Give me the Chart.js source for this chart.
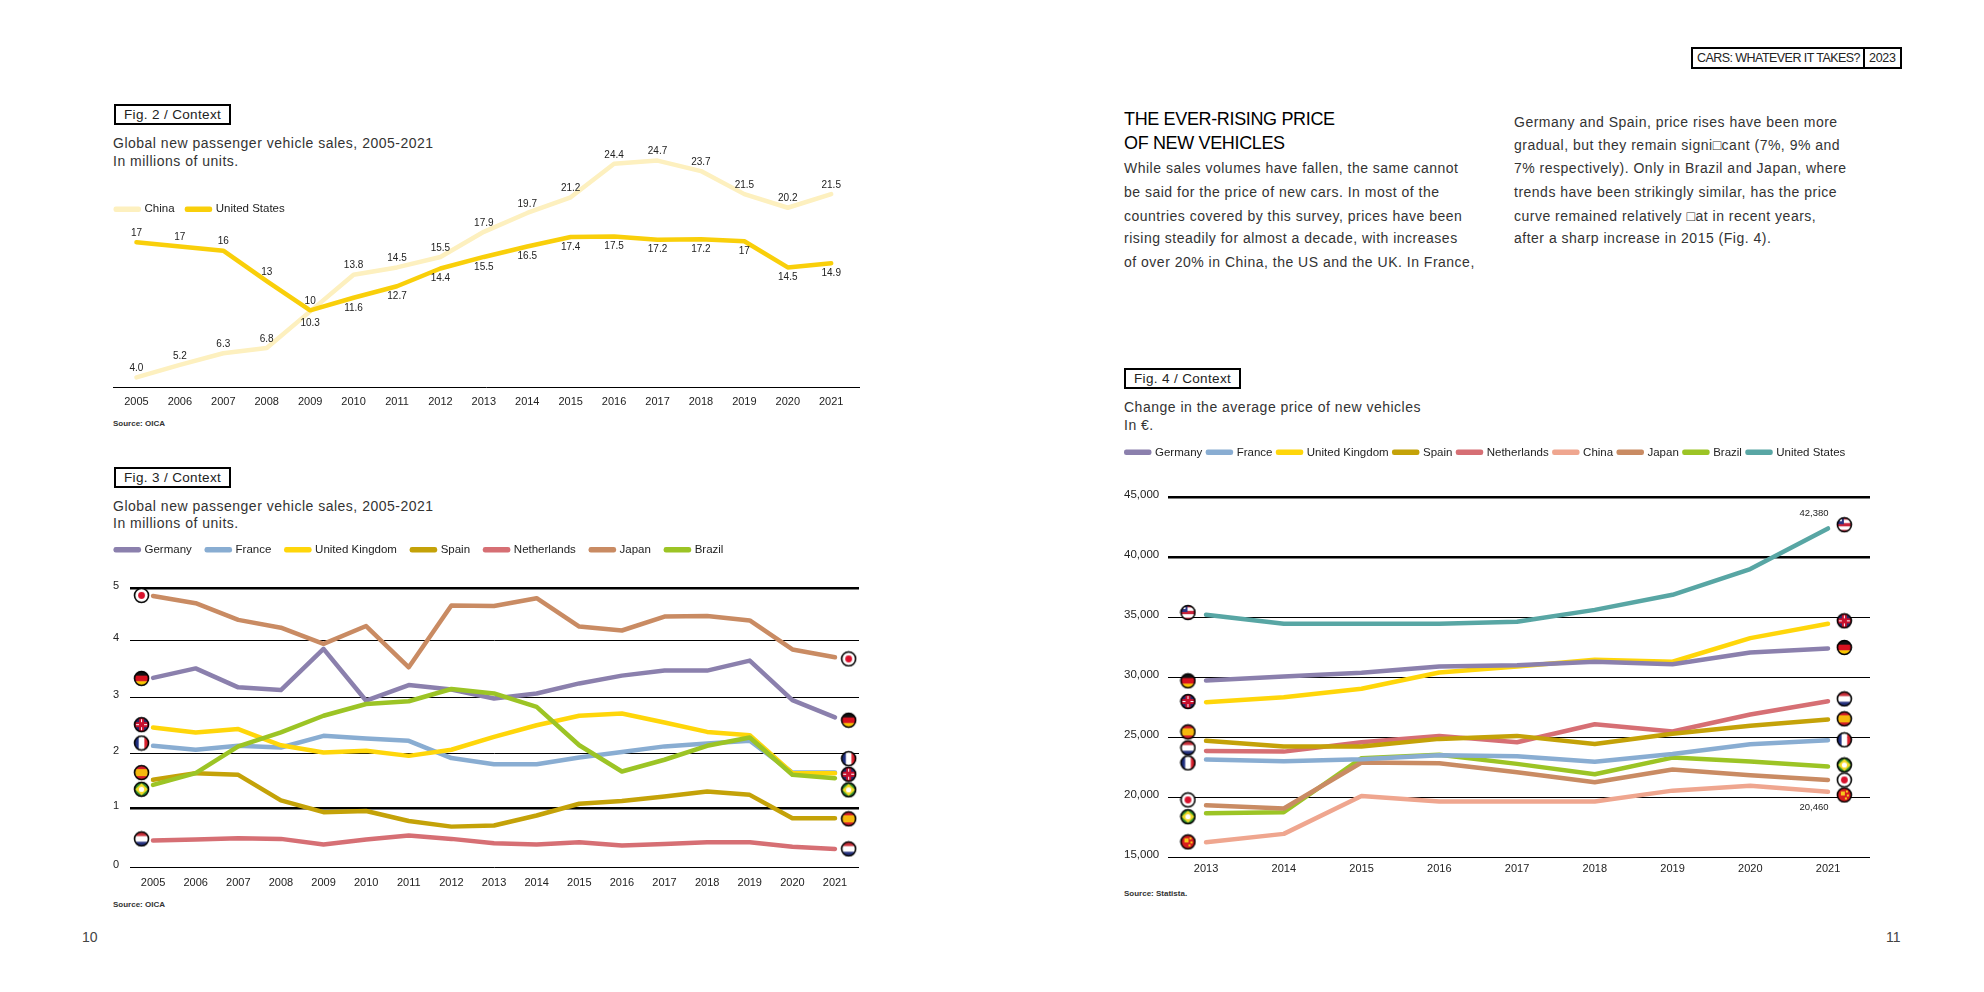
<!DOCTYPE html>
<html>
<head>
<meta charset="utf-8">
<title>Cars: whatever it takes?</title>
<script src="https://cdn.jsdelivr.net/npm/chart.js@4"></script>
<style>
    html, body { margin: 0; padding: 0; background: #fff; }
    body { position: relative; width: 1984px; height: 992px; overflow: hidden; font-family: "Liberation Sans", sans-serif; color: #222; }
    canvas { position: absolute; }
    .t { position: absolute; white-space: nowrap; line-height: 20px; }
    .figbox { position: absolute; box-sizing: border-box; border: 2px solid #000; height: 21px; width: 117px; font-size: 13.5px; line-height: 17px; padding-left: 8px; letter-spacing: 0.35px; white-space: nowrap; }
    .sub { font-size: 14px; letter-spacing: 0.5px; color: #333; }
    .src { font-size: 8px; font-weight: bold; color: #333; }
    .body { font-size: 14px; letter-spacing: 0.5px; color: #333; }
    .head { font-size: 18px; letter-spacing: -0.35px; color: #000; }
</style>
</head>
<body>
<div class="t" style="left:1691px;top:47px;width:211px;height:22px;box-sizing:border-box;border:2px solid #000;"></div>
<div class="t" style="left:1863px;top:47px;width:2px;height:22px;background:#000;"></div>
<div class="t" style="left:1697px;top:48px;font-size:12.5px;letter-spacing:-0.55px;">CARS: WHATEVER IT TAKES?</div>
<div class="t" style="left:1869px;top:48px;font-size:12.5px;letter-spacing:-0.3px;">2023</div>

<div class="t head" style="left:1124px;top:109px;">THE EVER-RISING PRICE</div>
<div class="t head" style="left:1124px;top:133px;">OF NEW VEHICLES</div>
<div class="t body" style="left:1124px;top:158px;">While sales volumes have fallen, the same cannot</div>
<div class="t body" style="left:1124px;top:182px;">be said for the price of new cars. In most of the</div>
<div class="t body" style="left:1124px;top:206px;">countries covered by this survey, prices have been</div>
<div class="t body" style="left:1124px;top:228px;">rising steadily for almost a decade, with increases</div>
<div class="t body" style="left:1124px;top:252px;">of over 20% in China, the US and the UK. In France,</div>
<div class="t body" style="left:1514px;top:112px;">Germany and Spain, price rises have been more</div>
<div class="t body" style="left:1514px;top:135px;">gradual, but they remain signi□cant (7%, 9% and</div>
<div class="t body" style="left:1514px;top:158px;">7% respectively). Only in Brazil and Japan, where</div>
<div class="t body" style="left:1514px;top:182px;">trends have been strikingly similar, has the price</div>
<div class="t body" style="left:1514px;top:206px;">curve remained relatively □at in recent years,</div>
<div class="t body" style="left:1514px;top:228px;">after a sharp increase in 2015 (Fig. 4).</div>

<div class="figbox" style="left:114px;top:104px;">Fig. 2 / Context</div>
<div class="t sub" style="left:113px;top:133px;">Global new passenger vehicle sales, 2005-2021</div>
<div class="t sub" style="left:113px;top:151px;">In millions of units.</div>
<div class="t src" style="left:113px;top:414px;">Source: OICA</div>

<div class="figbox" style="left:114px;top:467px;">Fig. 3 / Context</div>
<div class="t sub" style="left:113px;top:496px;">Global new passenger vehicle sales, 2005-2021</div>
<div class="t sub" style="left:113px;top:513px;">In millions of units.</div>
<div class="t src" style="left:113px;top:895px;">Source: OICA</div>

<div class="figbox" style="left:1124px;top:368px;">Fig. 4 / Context</div>
<div class="t sub" style="left:1124px;top:397px;">Change in the average price of new vehicles</div>
<div class="t sub" style="left:1124px;top:415px;">In €.</div>
<div class="t src" style="left:1124px;top:884px;">Source: Statista.</div>

<div class="t" style="left:82px;top:927px;font-size:14px;color:#444;">10</div>
<div class="t" style="left:1886px;top:927px;font-size:14px;color:#444;">11</div>

<canvas id="fig2" width="790" height="300" style="left:90px;top:120px;"></canvas>
<canvas id="fig3" width="790" height="370" style="left:90px;top:530px;"></canvas>
<canvas id="fig4" width="860" height="450" style="left:1100px;top:440px;"></canvas>

<script>
// --- Fig. 2 ---
const fig2Years = [2005, 2006, 2007, 2008, 2009, 2010, 2011, 2012, 2013, 2014, 2015, 2016, 2017, 2018, 2019, 2020, 2021];
const fig2China = [4.0, 5.2, 6.3, 6.8, 10.3, 13.8, 14.5, 15.5, 17.9, 19.7, 21.2, 24.4, 24.7, 23.7, 21.5, 20.2, 21.5];
const fig2Us = [16.9, 16.5, 16.1, 13.2, 10.4, 11.6, 12.7, 14.4, 15.5, 16.5, 17.4, 17.45, 17.15, 17.2, 17.0, 14.5, 14.9];
const fig2ChinaLabels = ["4.0", "5.2", "6.3", "6.8", "10.3", "13.8", "14.5", "15.5", "17.9", "19.7", "21.2", "24.4", "24.7", "23.7", "21.5", "20.2", "21.5"];
const fig2UsLabels = ["17", "17", "16", "13", "10", "11.6", "12.7", "14.4", "15.5", "16.5", "17.4", "17.5", "17.2", "17.2", "17", "14.5", "14.9"];
const fig2ChinaSide = [-1, -1, -1, -1, 1, -1, -1, -1, -1, -1, -1, -1, -1, -1, -1, -1, -1];
const fig2UsSide = [-1, -1, -1, -1, -1, 1, 1, 1, 1, 1, 1, 1, 1, 1, 1, 1, 1];

// --- Fig. 3 ---
const fig3Years = fig2Years;
const fig3Names = ["Germany", "France", "United Kingdom", "Spain", "Netherlands", "Japan", "Brazil"];
const fig3Germany = [3.40, 3.57, 3.23, 3.18, 3.92, 2.99, 3.27, 3.19, 3.03, 3.12, 3.30, 3.44, 3.53, 3.53, 3.71, 3.00, 2.69];
const fig3France = [2.18, 2.11, 2.18, 2.15, 2.36, 2.31, 2.27, 1.96, 1.85, 1.85, 1.97, 2.07, 2.17, 2.22, 2.27, 1.70, 1.70];
const fig3Uk = [2.51, 2.42, 2.48, 2.19, 2.06, 2.09, 2.00, 2.11, 2.34, 2.55, 2.72, 2.76, 2.60, 2.43, 2.37, 1.69, 1.69];
const fig3Spain = [1.57, 1.69, 1.66, 1.20, 0.99, 1.01, 0.83, 0.73, 0.75, 0.93, 1.14, 1.19, 1.27, 1.36, 1.30, 0.88, 0.88];
const fig3Netherlands = [0.48, 0.50, 0.52, 0.51, 0.41, 0.50, 0.57, 0.51, 0.43, 0.41, 0.45, 0.39, 0.42, 0.45, 0.45, 0.37, 0.33];
const fig3Japan = [4.87, 4.74, 4.44, 4.30, 4.01, 4.33, 3.59, 4.70, 4.69, 4.83, 4.32, 4.25, 4.50, 4.51, 4.43, 3.91, 3.77];
const fig3Brazil = [1.48, 1.69, 2.17, 2.42, 2.72, 2.93, 2.98, 3.20, 3.12, 2.88, 2.19, 1.72, 1.93, 2.18, 2.33, 1.66, 1.60];
const fig3TickLabels = ["0", "1", "2", "3", "4", "5"];
const fig3TickValues = [0, 1.053, 2.045, 3.05, 4.073, 5];
const fig3TickWidths = [1, 2.5, 1, 1, 1, 2.5];
const fig3Flags = ["germany", "france", "uk", "spain", "netherlands", "japan", "brazil"];
const fig3FlagsLeft = [3.39, 2.23, 2.56, 1.70, 0.51, 4.88, 1.40];
const fig3FlagsRight = [2.64, 1.95, 1.67, 0.87, 0.33, 3.74, 1.39];

// --- Fig. 4 ---
const fig4Years = [2013, 2014, 2015, 2016, 2017, 2018, 2019, 2020, 2021];
const fig4Names = ["Germany", "France", "United Kingdom", "Spain", "Netherlands", "China", "Japan", "Brazil", "United States"];
const fig4Germany = [29720, 30060, 30360, 30890, 31000, 31280, 31080, 32060, 32390];
const fig4France = [23140, 23000, 23170, 23500, 23420, 22950, 23610, 24420, 24750];
const fig4Uk = [27920, 28330, 29030, 30390, 30890, 31440, 31280, 33250, 34440];
const fig4Spain = [24700, 24220, 24220, 24860, 25110, 24440, 25280, 25950, 26470];
const fig4Netherlands = [23860, 23800, 24580, 25110, 24580, 26080, 25470, 26890, 28000];
const fig4China = [16250, 16950, 20100, 19650, 19650, 19650, 20550, 20950, 20460];
const fig4Japan = [19330, 19060, 22890, 22830, 22080, 21250, 22310, 21830, 21440];
const fig4Brazil = [18670, 18750, 23250, 23530, 22780, 21920, 23300, 22970, 22560];
const fig4Us = [35200, 34440, 34440, 34440, 34620, 35600, 36860, 39000, 42380];
const fig4TickLabels = ["15,000", "20,000", "25,000", "30,000", "35,000", "40,000", "45,000"];
const fig4TickValues = [15000, 20000, 25000, 30000, 35000, 40000, 45000];
const fig4TickWidths = [1, 1, 1, 1, 1, 2.5, 2.5];
const fig4Flags = ["germany", "france", "uk", "spain", "netherlands", "china", "japan", "brazil", "usa"];
const fig4FlagsLeft = [29690, 22860, 27970, 25440, 24110, 16280, 19780, 18380, 35380];
const fig4FlagsRight = [32470, 24780, 34690, 26530, 28190, 20190, 21440, 22690, 42690];

const seriesColors = {
    Germany: "#8b80ad",
    France: "#89add2",
    "United Kingdom": "#ffd60a",
    Spain: "#c4a208",
    Netherlands: "#d66f74",
    China: "#efa68f",
    Japan: "#c98b63",
    Brazil: "#9cc425",
    "United States": "#58a6a4"
};

// little round flags used as point images
function makeFlag(kind) {
    const c = document.createElement("canvas");
    c.width = 17;
    c.height = 17;
    const g = c.getContext("2d");
    const r = 7;
    const stripes = (cols, vertical) => {
        cols.forEach((col, i) => {
            g.fillStyle = col;
            const w = 17 / cols.length;
            if (vertical) g.fillRect(i * w, 0, w + 0.5, 17);
            else g.fillRect(0, i * w, 17, w + 0.5);
        });
    };
    g.save();
    g.beginPath();
    g.arc(8.5, 8.5, r, 0, Math.PI * 2);
    g.clip();
    if (kind === "germany") stripes(["#111", "#d8121f", "#f7c600"]);
    if (kind === "france") stripes(["#1f2f80", "#fff", "#d8202c"], true);
    if (kind === "netherlands") stripes(["#c8303a", "#fff", "#26327e"]);
    if (kind === "spain") {
        g.fillStyle = "#d4202a";
        g.fillRect(0, 0, 17, 17);
        g.fillStyle = "#f6b90e";
        g.fillRect(0, 5, 17, 7);
    }
    if (kind === "uk") {
        g.fillStyle = "#c8102e";
        g.fillRect(0, 0, 17, 17);
        g.fillStyle = "#2a2a6a";
        g.fillRect(2, 2, 4, 4);
        g.fillRect(11, 2, 4, 4);
        g.fillRect(2, 11, 4, 4);
        g.fillRect(11, 11, 4, 4);
        g.fillStyle = "#fff";
        g.fillRect(8, 3, 1, 3);
        g.fillRect(8, 11, 1, 3);
        g.fillRect(3, 8, 3, 1);
        g.fillRect(11, 8, 3, 1);
    }
    if (kind === "china") {
        g.fillStyle = "#d81e1e";
        g.fillRect(0, 0, 17, 17);
        g.fillStyle = "#f8c91c";
        g.fillRect(5, 5, 4, 4);
        g.fillRect(10, 4, 2, 2);
        g.fillRect(11, 8, 2, 2);
        g.fillRect(9, 11, 2, 2);
    }
    if (kind === "japan") {
        g.fillStyle = "#fff";
        g.fillRect(0, 0, 17, 17);
        g.fillStyle = "#d8112c";
        g.beginPath();
        g.arc(8.5, 8.5, 3.4, 0, Math.PI * 2);
        g.fill();
    }
    if (kind === "brazil") {
        g.fillStyle = "#2f8f2f";
        g.fillRect(0, 0, 17, 17);
        g.fillStyle = "#f4da26";
        g.beginPath();
        g.moveTo(8.5, 2.5);
        g.lineTo(15, 8.5);
        g.lineTo(8.5, 14.5);
        g.lineTo(2, 8.5);
        g.fill();
        g.fillStyle = "#fff";
        g.beginPath();
        g.arc(8.5, 8.5, 2.6, 0, Math.PI * 2);
        g.fill();
    }
    if (kind === "usa") {
        stripes(["#c8223a", "#fff", "#c8223a", "#fff", "#c8223a"]);
        g.fillStyle = "#2c3180";
        g.fillRect(0, 0, 8, 8);
        g.fillStyle = "#fff";
        g.fillRect(4, 3, 2, 2);
    }
    g.restore();
    g.strokeStyle = "#000";
    g.lineWidth = 1.6;
    g.beginPath();
    g.arc(8.5, 8.5, r, 0, Math.PI * 2);
    g.stroke();
    return c;
}

const toPoints = (years, values) => years.map((year, i) => ({ x: year, y: values[i] }));

const lineDataset = (name, years, values, color, width, order) => ({
    label: name,
    data: toPoints(years, values),
    borderColor: color,
    backgroundColor: color,
    borderWidth: width,
    borderJoinStyle: "round",
    borderCapStyle: "round",
    pointRadius: 0,
    tension: 0,
    clip: false,
    order: order
});

const flagDataset = (flags, leftX, rightX, leftY, rightY) => ({
    label: "flags",
    showLine: false,
    data: [
        ...flags.map((f, i) => ({ x: leftX, y: leftY[i] })),
        ...flags.map((f, i) => ({ x: rightX, y: rightY[i] }))
    ],
    pointStyle: [...flags, ...flags].map(makeFlag),
    pointRadius: 7,
    clip: false,
    order: -1
});

// puts the legend at a fixed place in the canvas and writes the value labels
const pagePlugin = {
    id: "page",
    afterLayout(chart, args, opts) {
        const legend = chart.legend;
        legend.left = opts.legendX;
        legend.top = opts.legendY;
        legend.bottom = opts.legendY + 30;
    },
    afterDatasetsDraw(chart, args, opts) {
        const ctx = chart.ctx;
        ctx.save();
        ctx.fillStyle = "#222";
        ctx.textAlign = "center";
        ctx.textBaseline = "middle";
        ctx.font = opts.labelFont;
        (opts.labels || []).forEach(item => {
            const pt = chart.getDatasetMeta(item.dataset).data[item.index];
            ctx.fillText(item.text, pt.x + item.dx, pt.y + item.dy);
        });
        ctx.restore();
    }
};

const tickFont = { family: "'Liberation Sans'", size: 11 };

function makeChart(id, cfg) {
    const canvas = document.getElementById(id);
    const top = cfg.plotTop;
    const xAxisHeight = canvas.height - cfg.plotBottom;
    const yTicks = cfg.yTicks;
    return new Chart(canvas, {
        type: "line",
        data: { datasets: cfg.datasets },
        plugins: [pagePlugin],
        options: {
            responsive: false,
            animation: false,
            devicePixelRatio: 1,
            layout: {
                padding: { top: top - 1, left: cfg.labelLeft, right: canvas.width - cfg.plotRight, bottom: 0 }
            },
            scales: {
                x: {
                    type: "linear",
                    min: cfg.xMin,
                    max: cfg.xMax,
                    afterBuildTicks: scale => { scale.ticks = cfg.years.map(value => ({ value })); },
                    afterFit: scale => { scale.height = xAxisHeight; },
                    grid: { display: false, drawTicks: false },
                    border: { display: cfg.baseline, color: "#000", width: 1 },
                    ticks: {
                        autoSkip: false,
                        maxRotation: 0,
                        padding: cfg.xTickPadding,
                        color: "#222",
                        font: tickFont,
                        callback: v => String(v)
                    }
                },
                y: {
                    display: !!yTicks,
                    min: cfg.yMin,
                    max: cfg.yMax,
                    afterBuildTicks: yTicks ? scale => { scale.ticks = yTicks.values.map(value => ({ value })); } : undefined,
                    afterFit: scale => { scale.width = cfg.plotLeft - cfg.labelLeft; },
                    grid: {
                        drawTicks: false,
                        color: "#000",
                        lineWidth: c => (yTicks ? yTicks.widths[c.index] : 1)
                    },
                    border: { display: false },
                    ticks: {
                        autoSkip: false,
                        crossAlign: "far",
                        color: "#222",
                        font: { family: "'Liberation Sans'", size: cfg.yFontSize, lineHeight: 0.45 },
                        // empty second line moves the label a little above its grid line, as in the page
                        callback: (v, i) => (yTicks ? [yTicks.labels[i], ""] : "")
                    }
                }
            },
            plugins: {
                tooltip: { enabled: false },
                legend: {
                    position: "top",
                    align: "start",
                    maxHeight: 1,
                    labels: {
                        boxWidth: 23,
                        boxHeight: 1,
                        padding: cfg.legendPadding,
                        color: "#222",
                        font: { family: "'Liberation Sans'", size: 11.5 },
                        filter: item => item.text !== "flags",
                        sort: (a, b) => a.datasetIndex - b.datasetIndex
                    }
                },
                page: {
                    legendX: cfg.legendX,
                    legendY: cfg.legendY,
                    labelFont: cfg.labelFont,
                    labels: cfg.labels
                }
            }
        }
    });
}

// canvas fig2 sits at (90,120)
const fig2Labels = [
    ...fig2ChinaLabels.map((text, index) => ({ dataset: 0, index, text, dx: 0, dy: fig2ChinaSide[index] > 0 ? 12 : -9 })),
    ...fig2UsLabels.map((text, index) => ({ dataset: 1, index, text, dx: 0, dy: fig2UsSide[index] > 0 ? 10 : -9 }))
];

makeChart("fig2", {
    years: fig2Years,
    xMin: 2004.46,
    xMax: 2021.64,
    yMin: 3.08,
    yMax: 26,
    plotTop: 27,
    plotBottom: 267,
    plotLeft: 23,
    plotRight: 769,
    labelLeft: 23,
    baseline: true,
    xTickPadding: 8,
    yFontSize: 11,
    legendX: 13.35,
    legendY: 71,
    legendPadding: 12.4,
    labelFont: "10px 'Liberation Sans'",
    labels: fig2Labels,
    datasets: [
        lineDataset("China", fig2Years, fig2China, "#fdf0bf", 4.5, 2),
        lineDataset("United States", fig2Years, fig2Us, "#f9cf0a", 4.5, 1)
    ]
});

// canvas fig3 sits at (90,530)
const fig3Values = [fig3Germany, fig3France, fig3Uk, fig3Spain, fig3Netherlands, fig3Japan, fig3Brazil];

makeChart("fig3", {
    years: fig3Years,
    xMin: 2004.46,
    xMax: 2021.563,
    yMin: 0,
    yMax: 5,
    yTicks: { values: fig3TickValues, labels: fig3TickLabels, widths: fig3TickWidths },
    plotTop: 58.7,
    plotBottom: 337.3,
    plotLeft: 40,
    plotRight: 769,
    labelLeft: 23,
    baseline: false,
    xTickPadding: 9,
    yFontSize: 11,
    legendX: 10.75,
    legendY: -1,
    legendPadding: 15,
    labelFont: "10px 'Liberation Sans'",
    datasets: [
        flagDataset(fig3Flags, 2004.73, 2021.32, fig3FlagsLeft, fig3FlagsRight),
        ...fig3Names.map((name, i) => lineDataset(name, fig3Years, fig3Values[i], seriesColors[name], 4.5, fig3Names.length - i))
    ]
});

// canvas fig4 sits at (1100,440)
const fig4Values = [fig4Germany, fig4France, fig4Uk, fig4Spain, fig4Netherlands, fig4China, fig4Japan, fig4Brazil, fig4Us];

makeChart("fig4", {
    years: fig4Years,
    xMin: 2012.511,
    xMax: 2021.54,
    yMin: 15000,
    yMax: 45000,
    yTicks: { values: fig4TickValues, labels: fig4TickLabels, widths: fig4TickWidths },
    plotTop: 57,
    plotBottom: 417.3,
    plotLeft: 68,
    plotRight: 770,
    labelLeft: 24,
    baseline: false,
    xTickPadding: 5,
    yFontSize: 11.5,
    legendX: 20.65,
    legendY: 1,
    legendPadding: 5.6,
    labelFont: "9.5px 'Liberation Sans'",
    labels: [
        { dataset: 9, index: 8, text: "42,380", dx: -14, dy: -15 },
        { dataset: 6, index: 8, text: "20,460", dx: -14, dy: 16 }
    ],
    datasets: [
        flagDataset(fig4Flags, 2012.768, 2021.21, fig4FlagsLeft, fig4FlagsRight),
        ...fig4Names.map((name, i) => lineDataset(name, fig4Years, fig4Values[i], seriesColors[name], 4.5, i))
    ]
});
</script>
</body>
</html>
